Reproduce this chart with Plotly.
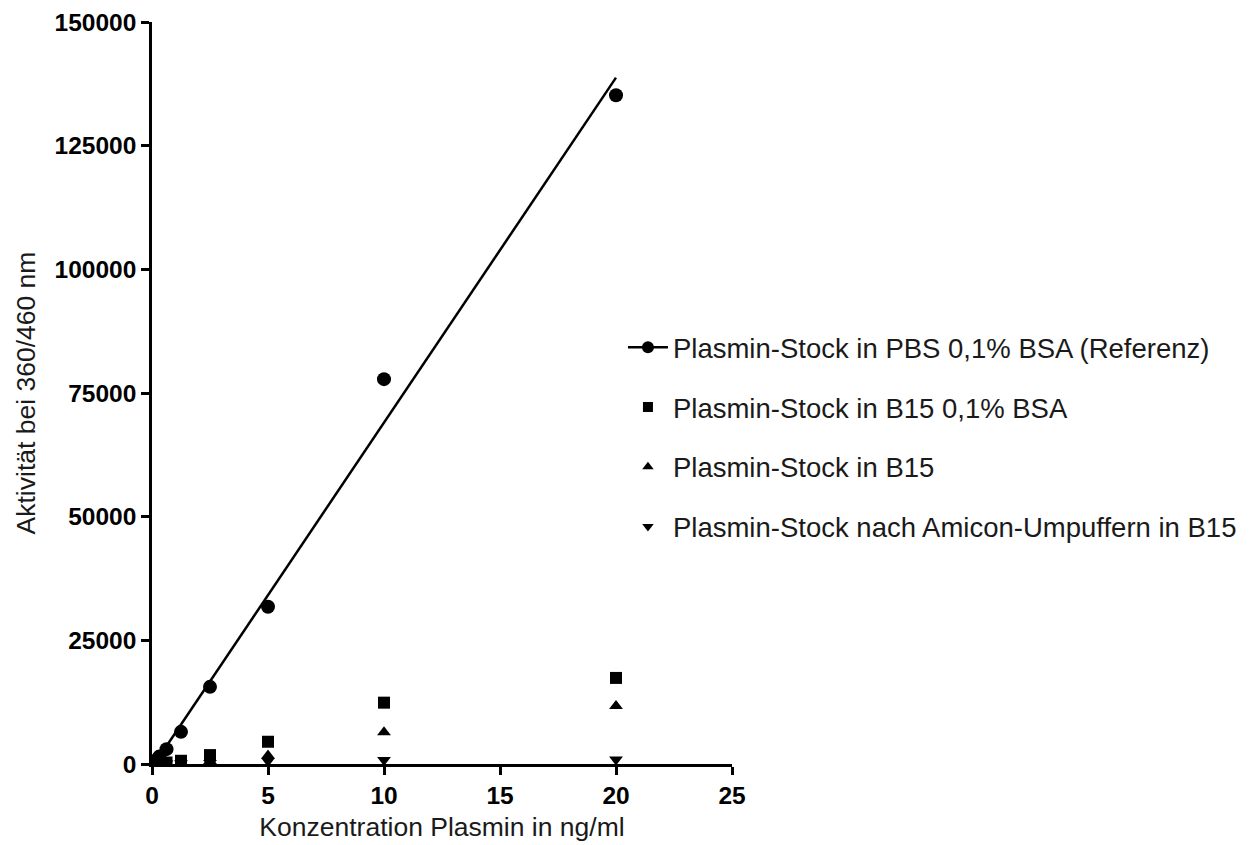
import numpy as np
import plotly.graph_objects as go

# Plasmin concentration series (ng/ml)
conc = [0.156, 0.3125, 0.625, 1.25, 2.5, 5, 10, 20]

# Fluorescence activity at 360/460 nm
pbs_bsa = [700, 1500, 3000, 6500, 15600, 31800, 77800, 135200]
b15_bsa = [80, 150, 300, 650, 1800, 4500, 12400, 17400]
b15 = [50, 100, 200, 400, 600, 1700, 6400, 11700]
amicon_b15 = [30, 60, 100, 150, 200, 600, 800, 900]

names = [
    "Plasmin-Stock in PBS 0,1% BSA (Referenz)",
    "Plasmin-Stock in B15 0,1% BSA",
    "Plasmin-Stock in B15",
    "Plasmin-Stock nach Amicon-Umpuffern in B15",
]

FONT = "Liberation Sans, Arial, sans-serif"

# linear regression through the reference series
slope, intercept = np.polyfit(conc, pbs_bsa, 1)
fit_x = [min(conc), max(conc)]
fit_y = [slope * v + intercept for v in fit_x]

fig = go.Figure()

fig.add_trace(go.Scatter(
    x=fit_x, y=fit_y, mode="lines",
    line=dict(color="black", width=2.5),
    showlegend=False, hoverinfo="skip",
))

series = [
    (pbs_bsa, "circle", 14),
    (b15_bsa, "square", 12),
    (b15, "triangle-up", 12),
    (amicon_b15, "triangle-down", 12),
]

for i, (vals, sym, size) in enumerate(series):
    fig.add_trace(go.Scatter(
        x=conc, y=vals, mode="markers",
        marker=dict(symbol=sym, size=size, color="black"),
        showlegend=False, legendgroup=f"g{i}",
    ))
    # legend entry
    fig.add_trace(go.Scatter(
        x=[None], y=[None],
        mode="lines+markers" if i == 0 else "markers",
        line=dict(color="black", width=2.5),
        marker=dict(symbol=sym, size=12 if i == 0 else 10, color="black"),
        name=names[i], legendgroup=f"g{i}",
    ))

fig.update_layout(
    width=1251, height=845,
    margin=dict(l=152, r=519, t=22, b=81, autoexpand=False),
    paper_bgcolor="white", plot_bgcolor="white",
    font=dict(family=FONT, color="black"),
    showlegend=True,
    legend=dict(
        x=0.812, y=0.441, xanchor="left", yanchor="middle",
        font=dict(size=27.5, family=FONT, color="#1a1a1a"),
        tracegroupgap=21, traceorder="grouped",
        itemwidth=40, bgcolor="rgba(0,0,0,0)",
    ),
    xaxis=dict(
        range=[0, 25], tickvals=[0, 5, 10, 15, 20, 25],
        showline=True, linecolor="black", linewidth=2.5,
        ticks="outside", ticklen=8, tickwidth=2.5, tickcolor="black",
        showgrid=False, zeroline=False,
        tickfont=dict(size=24.5, family=FONT, weight="bold"),
        title=dict(text="Konzentration Plasmin in ng/ml", font=dict(size=26.5, family=FONT, color="#1a1a1a"), standoff=10),
    ),
    yaxis=dict(
        range=[0, 150000], tickvals=[0, 25000, 50000, 75000, 100000, 125000, 150000],
        tickformat="d",
        showline=True, linecolor="black", linewidth=2.5,
        ticks="outside", ticklen=8, tickwidth=2.5, tickcolor="black",
        showgrid=False, zeroline=False,
        tickfont=dict(size=24.5, family=FONT, weight="bold"),
        title=dict(text="Aktivität bei 360/460 nm", font=dict(size=26.5, family=FONT, color="#1a1a1a"), standoff=12),
    ),
)

fig.write_html("out.html")
